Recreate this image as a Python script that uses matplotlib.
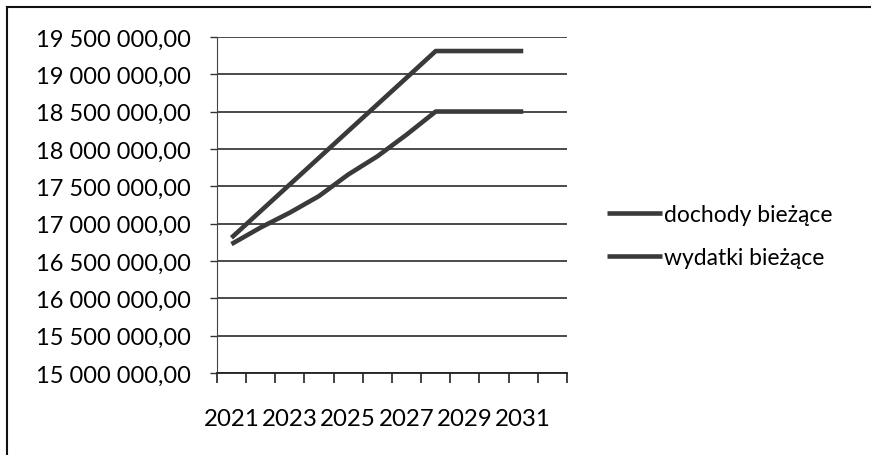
import numpy as np
import matplotlib.pyplot as plt
from matplotlib.ticker import FuncFormatter, MultipleLocator

# kategorie na osi X (12 lat, dane do 2031)
lata = [2021, 2022, 2023, 2024, 2025, 2026, 2027, 2028, 2029, 2030, 2031, 2032]
etykiety = ['2021', '', '2023', '', '2025', '', '2027', '', '2029', '', '2031', '']

dochody = [16810000, 17167000, 17524000, 17881000, 18238000, 18595000, 18952000,
           19310000, 19310000, 19310000, 19310000]
wydatki = [16725000, 16947000, 17146000, 17368000, 17656000, 17900000, 18190000,
           18500000, 18500000, 18500000, 18500000]

plt.rcParams['font.family'] = ['Lato', 'DejaVu Sans']

fig = plt.figure(figsize=(8.71, 4.56), dpi=100)
ax = fig.add_axes([0.249, 0.180, 0.402, 0.737])

x = np.arange(len(dochody))
kolor = '#3a3a3a'
ax.plot(x, dochody, color=kolor, lw=3.3, solid_capstyle='butt', label='dochody bieżące')
ax.plot(x, wydatki, color=kolor, lw=3.3, solid_capstyle='butt', label='wydatki bieżące')

ax.set_xlim(-0.5, len(lata) - 0.5)
ax.set_ylim(15000000, 19500000)

ax.yaxis.set_major_locator(MultipleLocator(500000))
fmt = lambda v, p: f'{v:,.2f}'.replace(',', ' ').replace('.', ',')
ax.yaxis.set_major_formatter(FuncFormatter(fmt))
ax.grid(axis='y', color='#1a1a1a', lw=1.1)
ax.set_axisbelow(True)

ax.set_xticks(np.arange(len(lata)))
ax.set_xticklabels(etykiety)
ax.set_xticks(np.arange(len(lata) + 1) - 0.5, minor=True)
ax.tick_params(axis='x', which='major', length=0, pad=25, labelsize=17.3)
ax.tick_params(axis='x', which='minor', length=7, width=1.2, color='#222222', direction='out')
ax.tick_params(axis='y', length=5, width=1, color='#333333', pad=14, labelsize=17)

for s in ['top', 'right']:
    ax.spines[s].set_visible(False)
ax.spines['left'].set_color('#444444')
ax.spines['bottom'].set_color('#222222')
ax.spines['bottom'].set_linewidth(1.3)

leg = fig.legend(loc='center left', bbox_to_anchor=(0.697, 0.48), frameon=False,
                 borderaxespad=0, borderpad=0,
                 fontsize=16.5, handlelength=2.4, handletextpad=0.1, labelspacing=0.95)

# ramka wykresu (lewa i górna krawędź)
fig.add_artist(plt.Line2D([0.008, 0.008], [0.0, 0.982], color='#111111', lw=1.5))
fig.add_artist(plt.Line2D([0.008, 1.0], [0.982, 0.982], color='#111111', lw=1.5))

fig.savefig('out.png', dpi=100)
